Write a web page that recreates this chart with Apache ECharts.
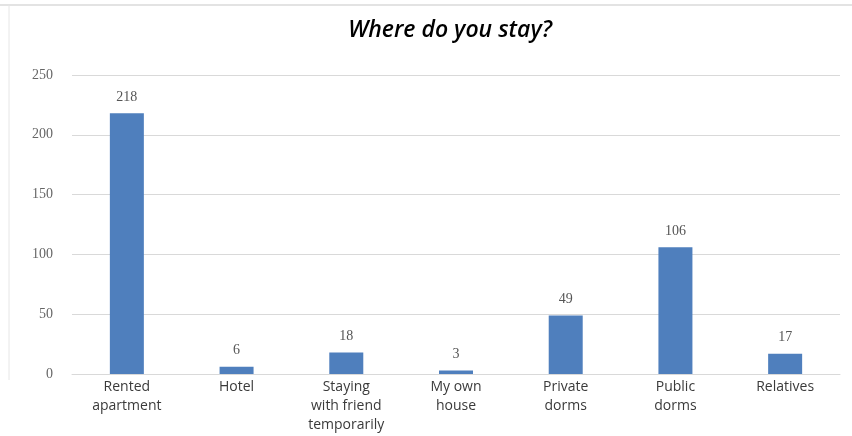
<!DOCTYPE html>
<html>
<head>
<meta charset="utf-8">
<script src="https://cdn.jsdelivr.net/npm/echarts@6/dist/echarts.min.js"></script>
<style>
  html, body { margin: 0; padding: 0; background: #fff; }
  #chart { width: 852px; height: 436px; }
</style>
</head>
<body>
<div id="chart"></div>
<script>
// Accommodation survey answers
const categories = [
  'Rented\napartment',
  'Hotel',
  'Staying\nwith friend\ntemporarily',
  'My own\nhouse',
  'Private\ndorms',
  'Public\ndorms',
  'Relatives'
];
const counts = [218, 6, 18, 3, 49, 106, 17];
const yTicks = { min: 0, max: 250, step: 50 };

const chart = echarts.init(document.getElementById('chart'));
chart.setOption({
  backgroundColor: '#ffffff',
  animation: false,
  title: {
    text: 'Where do you stay?',
    left: 445,
    textAlign: 'center',
    top: 14,
    textStyle: {
      fontFamily: 'Open Sans',
      fontStyle: 'italic',
      fontWeight: 600,
      fontSize: 23,
      color: '#000'
    }
  },
  graphic: [
    { type: 'line', shape: { x1: 0, y1: 5, x2: 852, y2: 5 }, style: { stroke: '#e3e3e3', lineWidth: 2 } },
    { type: 'line', shape: { x1: 9, y1: 5, x2: 9, y2: 380 }, style: { stroke: '#e6e6e6', lineWidth: 1 } }
  ],
  grid: { left: 72, right: 12, top: 75, bottom: 62 },
  xAxis: {
    type: 'category',
    data: categories,
    axisTick: { show: false },
    axisLine: { lineStyle: { color: '#d9d9d9', width: 1 } },
    axisLabel: {
      color: '#3a3a3a',
      fontFamily: 'Open Sans',
      fontSize: 14,
      lineHeight: 19,
      margin: 4,
      interval: 0
    }
  },
  yAxis: {
    type: 'value',
    min: yTicks.min,
    max: yTicks.max,
    interval: yTicks.step,
    axisLine: { show: false },
    axisTick: { show: false },
    splitLine: { lineStyle: { color: '#d9d9d9', width: 1 } },
    axisLabel: {
      color: '#666',
      fontFamily: 'Liberation Serif',
      fontSize: 14,
      margin: 19
    }
  },
  series: [{
    type: 'bar',
    data: counts,
    barWidth: 34,
    itemStyle: { color: '#4f7fbd' },
    label: {
      show: true,
      position: 'top',
      distance: 9,
      color: '#555',
      fontFamily: 'Liberation Serif',
      fontSize: 14
    }
  }]
});
</script>
</body>
</html>
